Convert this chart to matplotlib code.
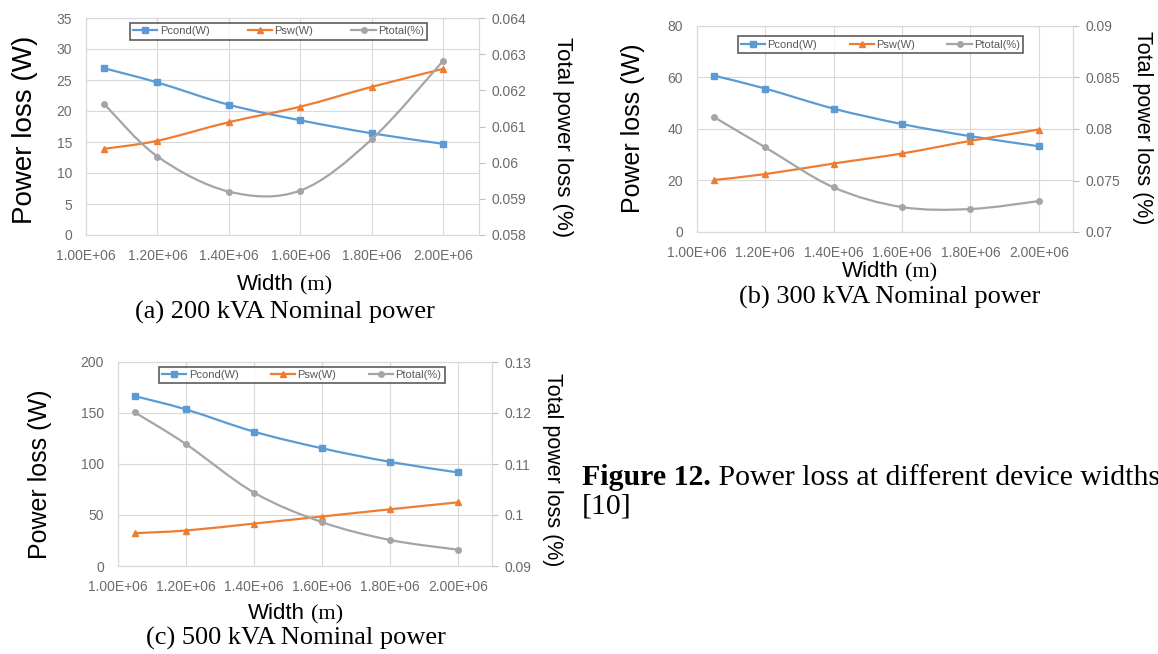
import numpy as np
import matplotlib.pyplot as plt
from matplotlib.path import Path
from matplotlib.patches import PathPatch
from matplotlib.lines import Line2D

# device width (m), same for every panel
width = [1.05e6, 1.2e6, 1.4e6, 1.6e6, 1.8e6, 2.0e6]
x_ticks = [1.0e6, 1.2e6, 1.4e6, 1.6e6, 1.8e6, 2.0e6]
x_tick_labels = ['1.00E+06', '1.20E+06', '1.40E+06', '1.60E+06', '1.80E+06', '2.00E+06']

# (a) 200 kVA
pcond_200 = [26.9, 24.6, 21.0, 18.5, 16.4, 14.7]
psw_200 = [13.9, 15.2, 18.2, 20.7, 23.9, 26.8]
ptotal_200 = [0.06163, 0.06017, 0.0592, 0.05923, 0.06065, 0.06282]
yticks_200 = [0, 5, 10, 15, 20, 25, 30, 35]
y2ticks_200 = [0.058, 0.059, 0.060, 0.061, 0.062, 0.063, 0.064]
y2labels_200 = ['0.058', '0.059', '0.06', '0.061', '0.062', '0.063', '0.064']

# (b) 300 kVA
pcond_300 = [60.7, 55.7, 47.9, 41.9, 37.2, 33.3]
psw_300 = [20.2, 22.5, 26.6, 30.5, 35.4, 39.8]
ptotal_300 = [0.08115, 0.07821, 0.07433, 0.07242, 0.07223, 0.0730]
yticks_300 = [0, 20, 40, 60, 80]
y2ticks_300 = [0.070, 0.075, 0.080, 0.085, 0.090]
y2labels_300 = ['0.07', '0.075', '0.08', '0.085', '0.09']

# (c) 500 kVA
pcond_500 = [166.5, 153.5, 131.7, 115.4, 102.1, 91.7]
psw_500 = [32.2, 34.8, 41.6, 48.5, 55.6, 62.4]
ptotal_500 = [0.1201, 0.1139, 0.1044, 0.0986, 0.0951, 0.0932]
yticks_500 = [0, 50, 100, 150, 200]
y2ticks_500 = [0.09, 0.10, 0.11, 0.12, 0.13]
y2labels_500 = ['0.09', '0.1', '0.11', '0.12', '0.13']

titles = ['(a) 200 kVA Nominal power', '(b) 300 kVA Nominal power', '(c) 500 kVA Nominal power']
series_names = ['Pcond(W)', 'Psw(W)', 'Ptotal(%)']

BLUE, ORANGE, GRAY = '#5B9BD5', '#ED7D31', '#A5A5A5'
GRID = '#D9D9D9'
TICK = '#6b6b6b'
SANS = 'Liberation Sans'
SERIF = 'Liberation Serif'

W, H = 1158, 654
fig = plt.figure(figsize=(W / 100, H / 100), dpi=100)


def box(l, r, t, b):
    return [l / W, 1 - b / H, (r - l) / W, (b - t) / H]


def smooth_path(x, y):
    # Excel-like smoothed line: bezier segments through the data points
    pts = np.column_stack([np.asarray(x, float), np.asarray(y, float)])
    ext = np.vstack([pts[0], pts, pts[-1]])
    verts, codes = [pts[0]], [Path.MOVETO]
    for i in range(len(pts) - 1):
        p0, p1, p2, p3 = ext[i], ext[i + 1], ext[i + 2], ext[i + 3]
        verts += [p1 + (p2 - p0) / 6, p2 - (p3 - p1) / 6, p2]
        codes += [Path.CURVE4] * 3
    return Path(verts, codes)


def draw_series(ax, x, y, color, marker, ms):
    ax.add_patch(PathPatch(smooth_path(x, y), fill=False, edgecolor=color, lw=1.6))
    ax.plot(x, y, ls='none', marker=marker, color=color, ms=ms)


panels = [
    dict(rect=(86, 479, 18, 235), pcond=pcond_200, psw=psw_200, ptot=ptotal_200,
         yt=yticks_200, y2t=y2ticks_200, y2l=y2labels_200,
         leg=(0.097, 0.895, 0.786, 0.087),
         ylab=(25, 130, 20), y2lab=(563, 137, 16), cx=285, wy=283, ty=312),
    dict(rect=(697, 1073, 26, 232), pcond=pcond_300, psw=psw_300, ptot=ptotal_300,
         yt=yticks_300, y2t=y2ticks_300, y2l=y2labels_300,
         leg=(0.093, 0.85, 0.79, 0.12),
         ylab=(633, 128, 18), y2lab=(1142, 128, 15.5), cx=890, wy=270, ty=297),
    dict(rect=(118, 492, 362, 566), pcond=pcond_500, psw=psw_500, ptot=ptotal_500,
         yt=yticks_500, y2t=y2ticks_500, y2l=y2labels_500,
         leg=(0.094, 0.88, 0.794, 0.113),
         ylab=(40, 474, 18), y2lab=(552, 470, 15.5), cx=296, wy=612, ty=638),
]

for p, title in zip(panels, titles):
    ax = fig.add_axes(box(*p['rect']))
    ax2 = ax.twinx()

    ax.set_xlim(1.0e6, 2.1e6)
    ax.set_ylim(p['yt'][0], p['yt'][-1])
    ax2.set_ylim(p['y2t'][0], p['y2t'][-1])

    draw_series(ax, width, p['pcond'], BLUE, 's', 4.5)
    draw_series(ax, width, p['psw'], ORANGE, '^', 4.5)
    draw_series(ax2, width, p['ptot'], GRAY, 'o', 4)

    ax.set_xticks(x_ticks)
    ax.set_xticklabels(x_tick_labels)
    ax.set_yticks(p['yt'])
    ax2.set_yticks(p['y2t'])
    ax2.set_yticklabels(p['y2l'])

    ax.grid(True, color=GRID, lw=0.8)
    ax.set_axisbelow(True)
    for a in (ax, ax2):
        for s in a.spines.values():
            s.set_color(GRID)
            s.set_linewidth(0.8)
    ax.tick_params(axis='both', length=0, labelsize=10, labelcolor=TICK)
    ax.tick_params(axis='x', pad=10)
    ax.tick_params(axis='y', pad=10)
    ax2.tick_params(axis='y', length=4, color='#BFBFBF', pad=5, labelsize=10, labelcolor=TICK)
    for t in ax.get_xticklabels() + ax.get_yticklabels() + ax2.get_yticklabels():
        t.set_fontfamily(SANS)

    handles = [Line2D([], [], color=BLUE, lw=1.6, marker='s', ms=4.5),
               Line2D([], [], color=ORANGE, lw=1.6, marker='^', ms=4.5),
               Line2D([], [], color=GRAY, lw=1.6, marker='o', ms=4)]
    leg = ax2.legend(handles, series_names, loc='center', ncol=3, mode='expand',
                     bbox_to_anchor=p['leg'], frameon=True, fancybox=False,
                     prop={'family': SANS, 'size': 8}, labelcolor='#595959',
                     handlelength=2.2, handletextpad=0.2, borderpad=0.3,
                     columnspacing=1.0)
    leg.get_frame().set_edgecolor('#333333')
    leg.get_frame().set_linewidth(1.2)

    # axis titles
    x, y, s = p['ylab']
    fig.text(x / W, 1 - y / H, 'Power loss (W)', rotation=90, ha='center', va='center',
             family=SANS, size=s)
    x, y, s = p['y2lab']
    fig.text(x / W, 1 - y / H, 'Total power loss (%)', rotation=270, ha='center', va='center',
             family=SANS, size=s)
    cx = p['cx']
    fig.text((cx + 9) / W, 1 - (p['wy'] + 7) / H, 'Width', ha='right', va='baseline',
             family=SANS, size=16)
    fig.text((cx + 15) / W, 1 - (p['wy'] + 7) / H, '(m)', ha='left', va='baseline',
             family=SERIF, size=16)
    fig.text(cx / W, 1 - p['ty'] / H, title, ha='center', va='center', family=SERIF, size=19)

# figure caption: bold lead-in, then the rest placed right after it (runs off the right edge)
cap = fig.text(582 / W, 1 - 485 / H, 'Figure 12.', ha='left', va='baseline',
               family=SERIF, size=21.5, weight='bold')
ax.annotate(' Power loss at different device widths', xy=(1, 0), xycoords=cap,
            ha='left', va='bottom', family=SERIF, size=21.5, annotation_clip=False)
fig.text(582 / W, 1 - 514 / H, '[10]', ha='left', va='baseline', family=SERIF, size=21.5)

fig.savefig('out.png', dpi=100)
